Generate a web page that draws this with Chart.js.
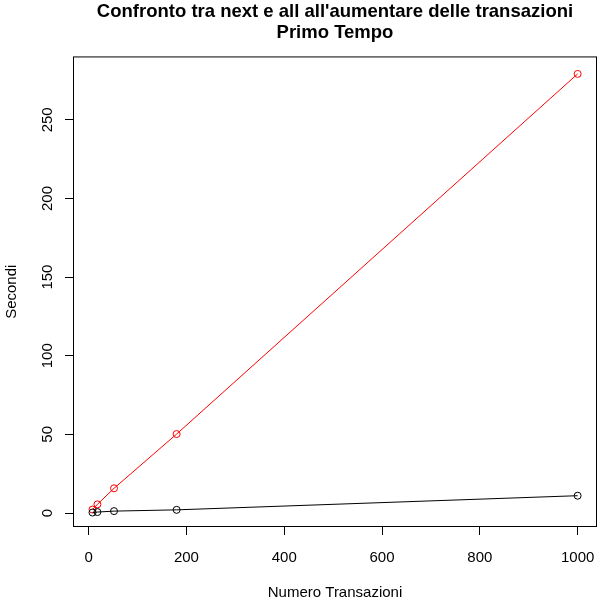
<!DOCTYPE html>
<html>
<head>
<meta charset="utf-8">
<script src="https://cdn.jsdelivr.net/npm/chart.js@4.4.1/dist/chart.umd.min.js"></script>
<style>
  html, body { margin: 0; padding: 0; background: #fff; }
  #wrap { width: 603px; height: 604px; }
</style>
</head>
<body>
<div id="wrap"><canvas id="chart_Tempo"></canvas></div>
<script>
// numero di transazioni e tempi (secondi)
var transazioni = [8, 18, 52, 180, 1000];
var tempoNext = [0.3, 0.6, 1.2, 2.0, 11.0];
var tempoAll = [2.2, 5.5, 15.7, 50.2, 279.2];
var xTicks = [0, 200, 400, 600, 800, 1000];
var yTicks = [0, 50, 100, 150, 200, 250];

function toPoints(xs, ys) {
  var pts = [];
  for (var i = 0; i < xs.length; i++) {
    pts.push({ x: xs[i], y: ys[i] });
  }
  return pts;
}

// box attorno all'area del grafico, come in R
var boxPlugin = {
  id: 'boxPlugin',
  afterDraw: function (chart) {
    var a = chart.chartArea;
    var ctx = chart.ctx;
    ctx.save();
    ctx.strokeStyle = '#000';
    ctx.lineWidth = 1;
    ctx.strokeRect(a.left + 0.5, a.top + 0.5, a.right - a.left - 1, a.bottom - a.top - 1);
    ctx.restore();
  }
};

var font = "'Liberation Sans', Arial, sans-serif";

new Chart(document.getElementById("chart_Tempo"), {
  type: 'line',
  data: {
    datasets: [{
      label: "next",
      data: toPoints(transazioni, tempoNext),
      borderColor: "#000000",
      backgroundColor: "rgba(0,0,0,0)",
      borderWidth: 1,
      pointRadius: 3.5,
      pointBorderWidth: 1,
      pointBorderColor: "#000000",
      pointBackgroundColor: "rgba(0,0,0,0)",
      tension: 0
    }, {
      label: "all",
      data: toPoints(transazioni, tempoAll),
      borderColor: "#ff0000",
      backgroundColor: "rgba(0,0,0,0)",
      borderWidth: 1,
      pointRadius: 3.5,
      pointBorderWidth: 1,
      pointBorderColor: "#ff0000",
      pointBackgroundColor: "rgba(0,0,0,0)",
      tension: 0
    }]
  },
  options: {
    responsive: true,
    maintainAspectRatio: false,
    animation: false,
    layout: { padding: { left: 0, right: 6, top: 0, bottom: 0 } },
    plugins: {
      legend: { display: false },
      tooltip: { enabled: false },
      title: {
        display: true,
        fullSize: false,
        text: ["Confronto tra next e all all'aumentare delle transazioni", "Primo Tempo"],
        color: '#000',
        font: { family: font, size: 18.5, weight: 'bold', lineHeight: 1.12 },
        padding: { top: 2, bottom: 13 }
      }
    },
    scales: {
      x: {
        type: 'linear',
        min: -31.9,
        max: 1039.6,
        afterBuildTicks: function (s) { s.ticks = xTicks.map(function (v) { return { value: v }; }); },
        afterFit: function (s) { s.height = 77; s.paddingRight = 0; s.paddingLeft = 0; },
        border: { display: false },
        grid: { drawOnChartArea: false, drawTicks: true, tickLength: 8, color: '#000' },
        ticks: {
          color: '#000', padding: 14, maxRotation: 0, font: { family: font, size: 15 },
          callback: function (v) { return String(v); }
        },
        title: { display: true, text: 'Numero Transazioni', color: '#000', padding: { top: 0, bottom: 2 }, font: { family: font, size: 15 } }
      },
      y: {
        type: 'linear',
        min: -8.9,
        max: 290.3,
        afterBuildTicks: function (s) { s.ticks = yTicks.map(function (v) { return { value: v }; }); },
        afterFit: function (s) { s.width = 73; s.paddingTop = 0; s.paddingBottom = 0; },
        border: { display: false },
        grid: { drawOnChartArea: false, drawTicks: true, tickLength: 8, color: '#000' },
        ticks: {
          color: '#000', padding: 5, minRotation: 90, maxRotation: 90, crossAlign: 'center', font: { family: font, size: 15 },
          callback: function (v) { return String(v); }
        },
        title: { display: true, text: 'Secondi', color: '#000', padding: { top: 3, bottom: 0 }, font: { family: font, size: 15 } }
      }
    }
  },
  plugins: [boxPlugin]
});
</script>
</body>
</html>
